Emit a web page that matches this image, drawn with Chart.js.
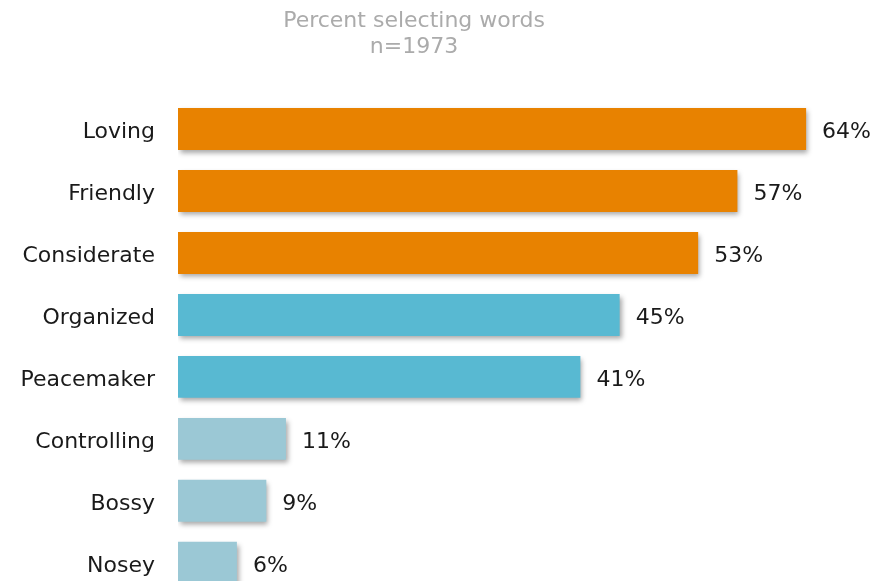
<!DOCTYPE html>
<html>
<head>
<meta charset="utf-8">
<script src="https://cdn.jsdelivr.net/npm/chart.js@4"></script>
<style>
  html, body { margin: 0; padding: 0; overflow: hidden; background: #fff; }
  #wrap { position: relative; width: 881px; height: 630px; }
</style>
</head>
<body>
<div id="wrap"><canvas id="wordsChart"></canvas></div>
<script>
const titleLines = ['Percent selecting words', 'n=1973'];
const words = ['Loving', 'Friendly', 'Considerate', 'Organized', 'Peacemaker', 'Controlling', 'Bossy', 'Nosey'];
const percents = [64, 57, 53, 45, 41, 11, 9, 6];
const barColors = ['#E88200', '#E88200', '#E88200', '#58B9D2', '#58B9D2', '#9BC8D5', '#9BC8D5', '#9BC8D5'];

const FONT = '"DejaVu Sans", sans-serif';

// soft drop shadow under every bar
const barShadow = {
    id: 'barShadow',
    beforeDatasetsDraw(chart) {
        const ctx = chart.ctx;
        ctx.save();
        ctx.shadowColor = 'rgba(0,0,0,0.35)';
        ctx.shadowBlur = 5;
        ctx.shadowOffsetX = 2;
        ctx.shadowOffsetY = 3;
    },
    afterDatasetsDraw(chart) {
        chart.ctx.restore();
    }
};

// "64%" style labels to the right of each bar
const valueLabels = {
    id: 'valueLabels',
    afterDatasetsDraw(chart) {
        const ctx = chart.ctx;
        const meta = chart.getDatasetMeta(0);
        ctx.save();
        ctx.font = '22px ' + FONT;
        ctx.fillStyle = '#1a1a1a';
        ctx.textAlign = 'left';
        ctx.textBaseline = 'middle';
        meta.data.forEach((bar, i) => {
            ctx.fillText(chart.data.datasets[0].data[i] + '%', bar.x + 16, bar.y + 3);
        });
        ctx.restore();
    }
};

// two-line grey heading above the bars
const heading = {
    id: 'heading',
    afterDraw(chart) {
        const ctx = chart.ctx;
        ctx.save();
        ctx.font = '22px ' + FONT;
        ctx.fillStyle = '#ABABAB';
        ctx.textAlign = 'center';
        ctx.textBaseline = 'middle';
        const cx = chart.chartArea.left + 236;
        titleLines.forEach((line, i) => ctx.fillText(line, cx, 21 + i * 26));
        ctx.restore();
    }
};

new Chart(document.getElementById('wordsChart').getContext('2d'), {
    type: 'bar',
    data: {
        labels: words,
        datasets: [{
            data: percents,
            backgroundColor: barColors,
            borderWidth: 0,
            categoryPercentage: 1,
            barPercentage: 0.677
        }]
    },
    options: {
        indexAxis: 'y',
        responsive: true,
        maintainAspectRatio: false,
        animation: false,
        layout: { padding: { top: 98, bottom: 16, right: 16, left: 0 } },
        plugins: {
            legend: { display: false },
            tooltip: { enabled: false },
            title: { display: false }
        },
        scales: {
            x: { display: false, min: 0, max: 70 },
            y: {
                grid: { display: false, drawTicks: false },
                border: { display: false },
                ticks: {
                    color: '#1a1a1a',
                    font: { family: FONT, size: 22 },
                    padding: 23,
                    labelOffset: 3
                },
                afterFit(scale) { scale.width = 178; }
            }
        }
    },
    plugins: [barShadow, valueLabels, heading]
});
</script>
</body>
</html>
